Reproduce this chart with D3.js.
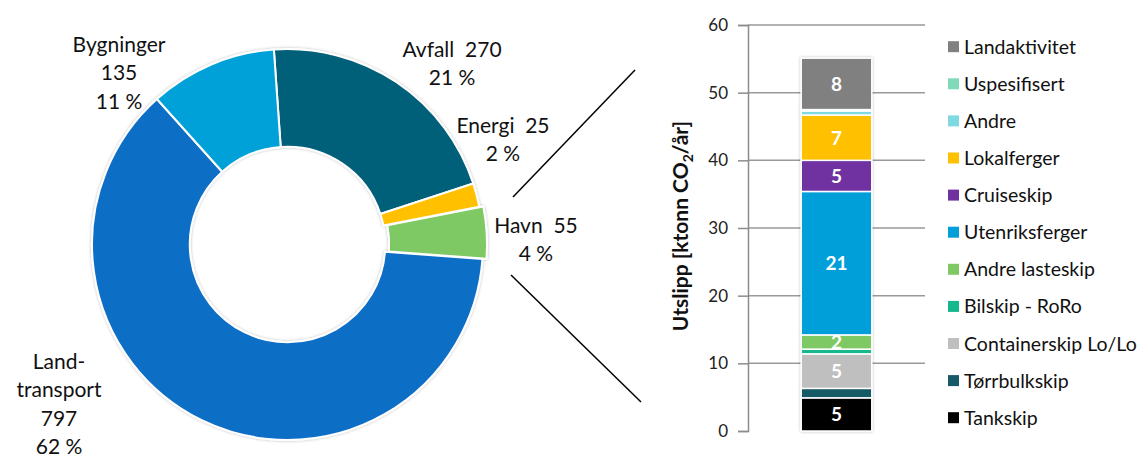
<!DOCTYPE html>
<html>
<head>
<meta charset="utf-8">
<script src="https://cdn.jsdelivr.net/npm/d3@7"></script>
<style>
  body { margin: 0; background: #fff; }
  text { font-family: Lato, "Open Sans", sans-serif; }
</style>
</head>
<body>
<svg id="svg" width="1138" height="457"></svg>
<script>
// donut: total emissions per sector
var sectorNames = ["Avfall", "Energi", "Havn", "Land-transport", "Bygninger"];
var sectorValues = [270, 25, 55, 797, 135];
var sectorColors = ["#05607a", "#ffc000", "#7ec964", "#106ec6", "#04a0d9"];

// stacked bar: breakdown of Havn (bottom to top)
var shipNames = ["Tankskip", "Tørrbulkskip", "Containerskip Lo/Lo", "Bilskip - RoRo",
    "Andre lasteskip", "Utenriksferger", "Cruiseskip", "Lokalferger", "Andre",
    "Uspesifisert", "Landaktivitet"];
var shipValues = [4.9, 1.4, 5.1, 0.7, 2.1, 21.2, 4.6, 6.7, 0.6, 0.2, 7.6];
var shipColors = ["#000000", "#155a66", "#bfbfbf", "#14b88c", "#7ec964", "#009fd9",
    "#7030a0", "#ffc000", "#7fd9e0", "#80d9b8", "#808080"];
var yTicks = [0, 10, 20, 30, 40, 50, 60];

var svg = d3.select("#svg");

var defs = svg.append("defs");
var glow = defs.append("filter").attr("id", "glow")
    .attr("x", "-20%").attr("y", "-20%").attr("width", "140%").attr("height", "140%");
glow.append("feGaussianBlur").attr("in", "SourceAlpha").attr("stdDeviation", 1.6).attr("result", "b");
glow.append("feFlood").attr("flood-color", "#000").attr("flood-opacity", 0.28);
glow.append("feComposite").attr("in2", "b").attr("operator", "in").attr("result", "s");
var mrg = glow.append("feMerge");
mrg.append("feMergeNode").attr("in", "s");
mrg.append("feMergeNode").attr("in", "SourceGraphic");

// ---- donut ----
var cx = 287.5, cy = 244.5, R = 195.5;
var startA = -4 * Math.PI / 180;

var pie = d3.pie().sort(null).value(function (d) { return d; })
    .startAngle(startA).endAngle(startA + 2 * Math.PI);
var arcs = pie(sectorValues);
var arc = d3.arc().innerRadius(R * 0.5).outerRadius(R);

var donut = svg.append("g")
    .attr("transform", "translate(" + cx + "," + cy + ")")
    .attr("filter", "url(#glow)");

donut.selectAll("path")
    .data(arcs)
    .enter().append("path")
    .attr("d", arc)
    .attr("transform", function (d, i) {
        // Havn slice is pulled out a little
        if (sectorNames[i] != "Havn") return null;
        var m = (d.startAngle + d.endAngle) / 2;
        return "translate(" + (4 * Math.sin(m)) + "," + (-4 * Math.cos(m)) + ")";
    })
    .attr("fill", function (d, i) { return sectorColors[i]; })
    .attr("stroke", "#fff")
    .attr("stroke-width", 2);

var total = d3.sum(sectorValues);
function pct(v) { return Math.round(v / total * 100) + " %"; }

// hand-placed label spots (center x, first baseline)
var labelSpot = {
    "Avfall": [452, 57],
    "Energi": [503, 133],
    "Havn": [536, 233],
    "Land-transport": [59, 369],
    "Bygninger": [119, 52]
};

sectorNames.forEach(function (name, i) {
    var lines;
    if (name == "Land-transport") lines = ["Land-", "transport", sectorValues[i], pct(sectorValues[i])];
    else if (name == "Bygninger") lines = [name, sectorValues[i], pct(sectorValues[i])];
    else lines = [name + "\u00a0\u00a0" + sectorValues[i], pct(sectorValues[i])];
    var p = labelSpot[name];
    var t = svg.append("text")
        .attr("text-anchor", "middle")
        .attr("font-size", 21)
        .attr("fill", "#111");
    t.selectAll("tspan").data(lines).enter().append("tspan")
        .attr("x", p[0])
        .attr("y", function (d, j) { return p[1] + j * 28.3; })
        .text(function (d) { return d; });
});

// connector lines toward the bar
svg.append("line").attr("x1", 513).attr("y1", 197).attr("x2", 635).attr("y2", 70)
    .attr("stroke", "#000").attr("stroke-width", 1.5);
svg.append("line").attr("x1", 511).attr("y1", 275).attr("x2", 641).attr("y2", 402)
    .attr("stroke", "#000").attr("stroke-width", 1.5);

// ---- stacked bar ----
var y = d3.scaleLinear().domain([0, 60]).range([431, 25]);
var x = d3.scaleBand().domain(["Havn"]).range([748, 925]).padding(0.43);

svg.append("g").attr("class", "grid")
    .selectAll("line")
    .data(yTicks.slice(1))
    .enter().append("line")
    .attr("x1", 748).attr("x2", 925)
    .attr("y1", function (d) { return y(d); })
    .attr("y2", function (d) { return y(d); })
    .attr("stroke", "#999").attr("stroke-width", 1.5);

var yAxis = svg.append("g")
    .attr("transform", "translate(748,0)")
    .call(d3.axisLeft(y).tickValues(yTicks).tickSize(10).tickPadding(10));
yAxis.select(".domain").attr("stroke", "#8c8c8c").attr("stroke-width", 1.5);
yAxis.selectAll(".tick line").attr("stroke", "#8c8c8c").attr("stroke-width", 1.5);
yAxis.selectAll(".tick text").attr("font-size", 17).attr("fill", "#222")
    .attr("font-family", "Lato, sans-serif");

var stack = [];
var acc = 0;
shipValues.forEach(function (v, i) {
    stack.push({ name: shipNames[i], v: v, y0: acc, y1: acc + v, color: shipColors[i] });
    acc += v;
});

var bar = svg.append("g").attr("filter", "url(#glow)");
bar.selectAll("rect")
    .data(stack)
    .enter().append("rect")
    .attr("x", x("Havn"))
    .attr("width", x.bandwidth())
    .attr("y", function (d) { return y(d.y1); })
    .attr("height", function (d) { return y(d.y0) - y(d.y1); })
    .attr("fill", function (d) { return d.color; })
    .attr("stroke", "#fff")
    .attr("stroke-width", 1.5);

svg.append("g").selectAll("text")
    .data(stack.filter(function (d) { return Math.round(d.v) >= 2; }))
    .enter().append("text")
    .attr("x", x("Havn") + x.bandwidth() / 2)
    .attr("y", function (d) { return y((d.y0 + d.y1) / 2); })
    .attr("dy", "0.36em")
    .attr("text-anchor", "middle")
    .attr("font-size", 19)
    .attr("font-weight", "bold")
    .attr("fill", "#fff")
    .text(function (d) { return Math.round(d.v); });

// axis title
var title = svg.append("text")
    .attr("transform", "translate(688,226) rotate(-90)")
    .attr("text-anchor", "middle")
    .attr("font-size", 21)
    .attr("font-weight", "bold")
    .attr("fill", "#111");
title.append("tspan").text("Utslipp [ktonn CO");
title.append("tspan").attr("font-size", 14).attr("dy", 5).text("2");
title.append("tspan").attr("dy", -5).text("/år]");

// legend, top entry is last series
var legendData = stack.slice().reverse();
var legend = svg.append("g").selectAll("g")
    .data(legendData)
    .enter().append("g")
    .attr("transform", function (d, i) { return "translate(948," + (46.7 + i * 37.1) + ")"; });
legend.append("rect")
    .attr("x", 0).attr("y", -5.5)
    .attr("width", 11).attr("height", 11)
    .attr("fill", function (d) { return d.color; });
legend.append("text")
    .attr("x", 16)
    .attr("dy", "0.36em")
    .attr("font-size", 19.5)
    .attr("fill", "#111")
    .text(function (d) { return d.name; });
</script>
</body>
</html>
